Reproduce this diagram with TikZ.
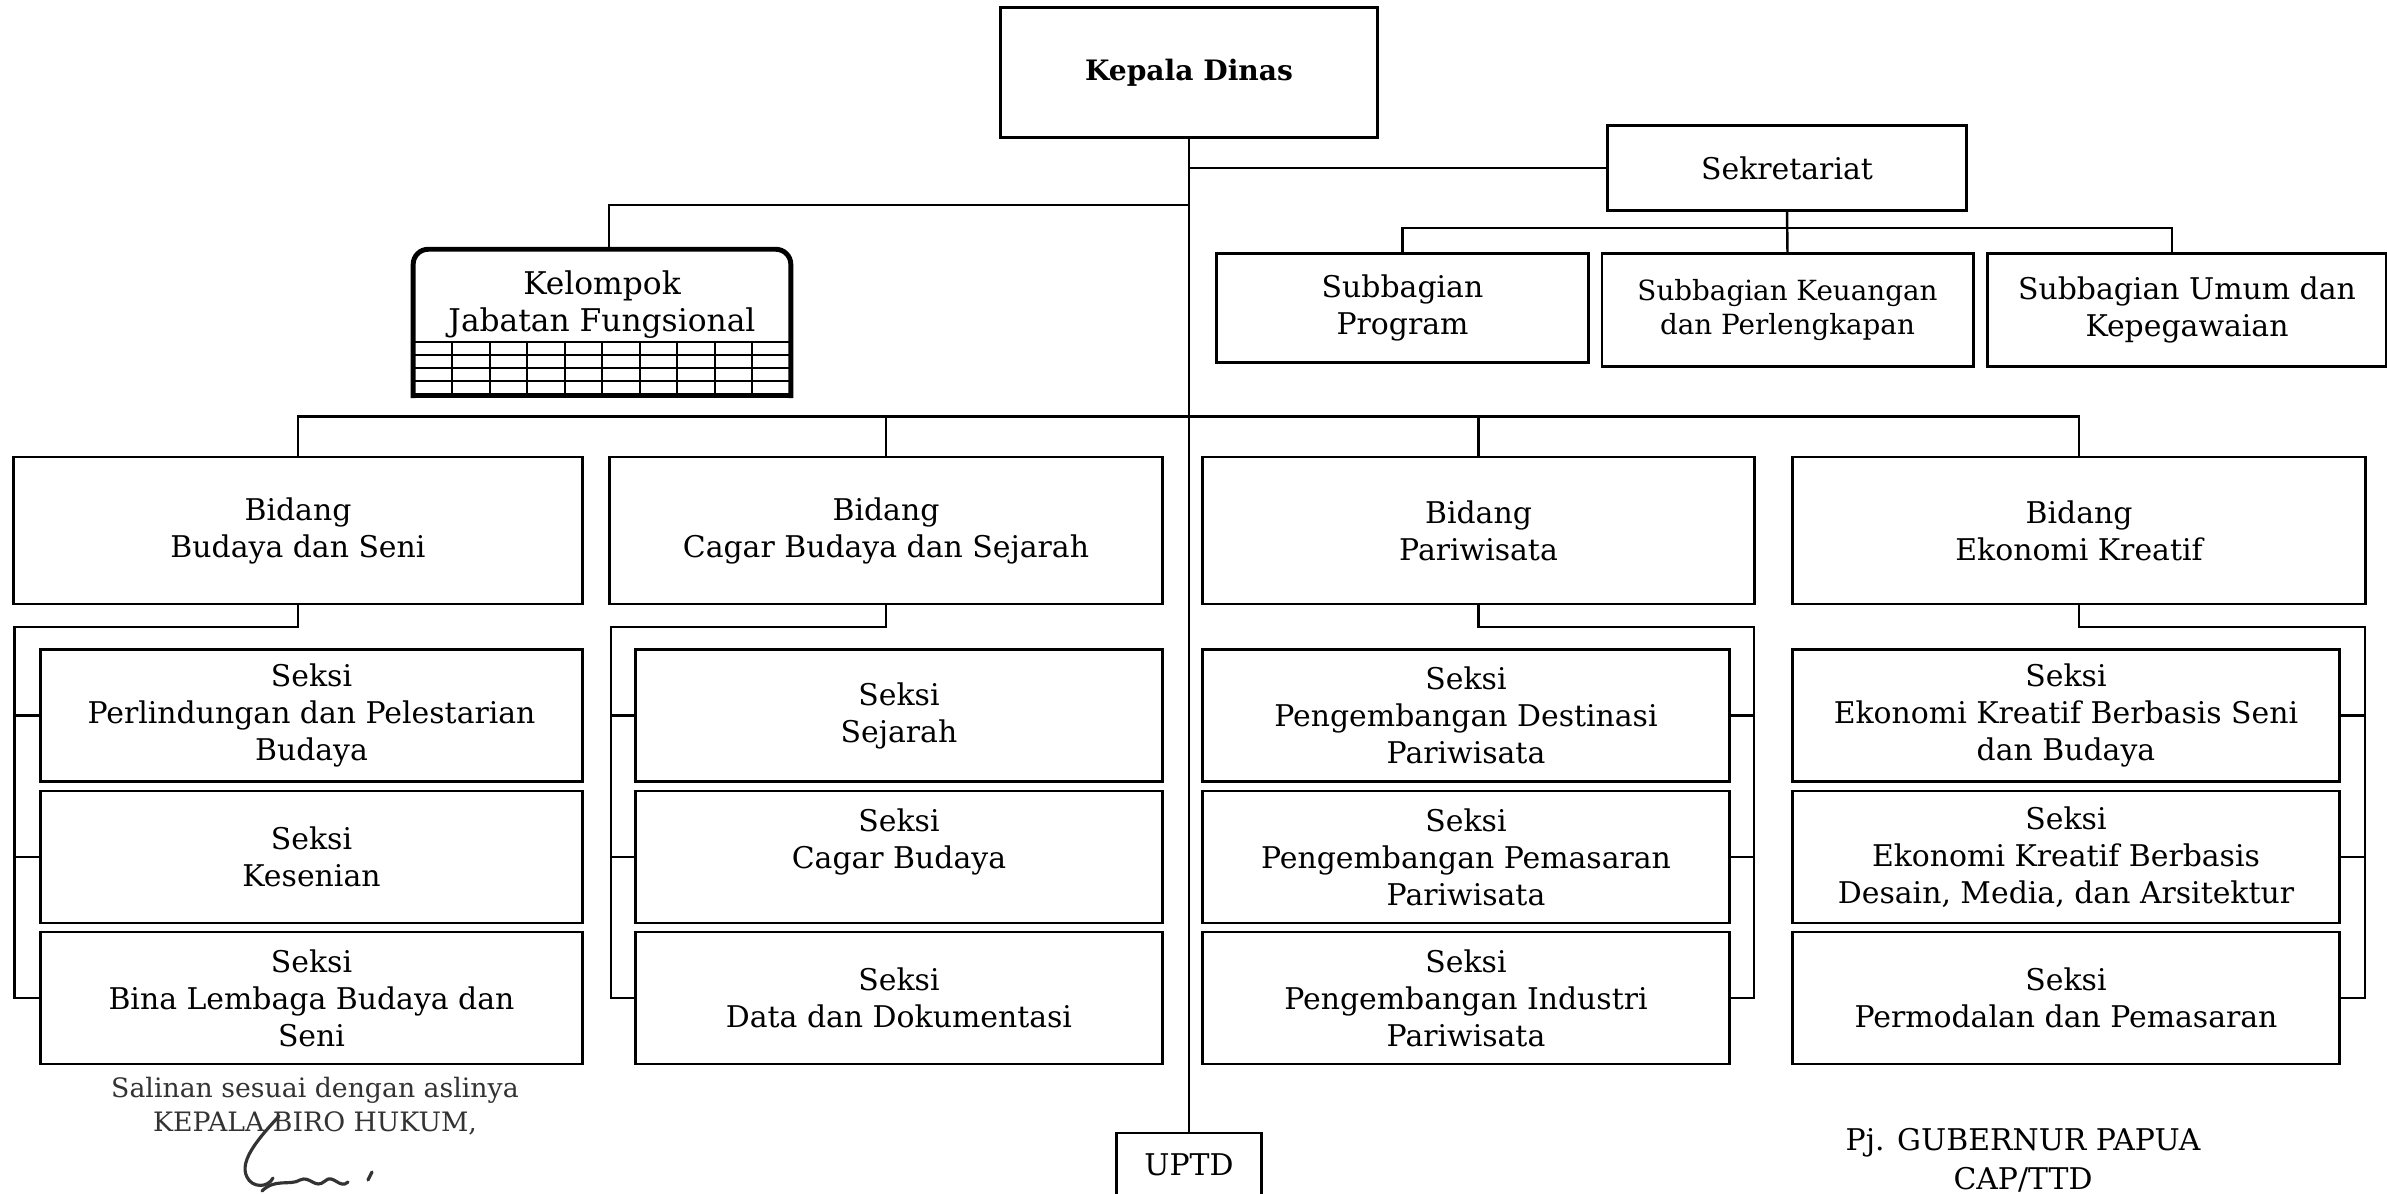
\documentclass[tikz,border=0pt]{standalone}
\usepackage{fontspec}
\setmainfont{DejaVu Serif}
\begin{document}
\begin{tikzpicture}[x=0.01cm, y=-0.01cm,
    box/.style={draw, line width=0.8pt, align=center, inner sep=0pt,
      font=\fontsize{8.5}{10.5}\selectfont},
    bidang/.style={box, minimum height=1.47cm},
    seksi/.style={box, minimum height=1.32cm},
    plain/.style={align=center, inner sep=0pt,
      font=\fontsize{8.5}{10.5}\selectfont},
    kjfline/.style={line width=1.4pt, line cap=rect},
    kjfgrid/.style={line width=0.5pt},
    conn/.style={line width=0.7pt},
    sig/.style={line width=0.9pt, black!80, line cap=round, line join=round}]
  \useasboundingbox (0,0) rectangle (2387,1193);
  \fill[white] (0,0) rectangle (2387,1193);
  \clip (0,0) rectangle (2387,1193);
  \draw
    (1189,72.3) node[box, minimum width=3.76cm, minimum height=1.30cm,
      font=\fontsize{8}{10}\selectfont\bfseries] (kd) {Kepala Dinas}
    (1787,168.2) node[box, minimum width=3.59cm, minimum height=0.85cm] (sek) {Sekretariat}
    (1402.5,307.7) node[box, minimum width=3.71cm, minimum height=1.09cm] (sp) {Subbagian\\Program}
    (1787.5,310) node[box, minimum width=3.71cm, minimum height=1.13cm,
      font=\fontsize{7.9}{9.8}\selectfont] (sk) {Subbagian Keuangan\\dan Perlengkapan}
    (2187,310) node[box, minimum width=3.98cm, minimum height=1.13cm] (su) {Subbagian Umum dan\\Kepegawaian}
    (602,322.5) node[minimum width=3.76cm, minimum height=1.45cm, inner sep=0pt] (kjf) {}
    (602,305) node[plain, font=\fontsize{8.9}{10.5}\selectfont] (kjft) {Kelompok\\Jabatan Fungsional}
    (298,530.5) node[bidang, minimum width=5.68cm] (b1) {Bidang\\Budaya dan Seni}
    (886,530.5) node[bidang, minimum width=5.52cm] (b2) {Bidang\\Cagar Budaya dan Sejarah}
    (1478.5,530.5) node[bidang, minimum width=5.51cm] (b3) {Bidang\\Pariwisata}
    (2079,530.5) node[bidang, minimum width=5.72cm] (b4) {Bidang\\Ekonomi Kreatif}
    (311.5,715.5) node[seksi, minimum width=5.41cm] (s11) {Seksi\\Perlindungan dan Pelestarian\\Budaya}
    (311.5,857) node[seksi, minimum width=5.41cm] (s12) {Seksi\\Kesenian}
    (311.5,998) node[seksi, minimum width=5.41cm] (s13) {Seksi\\Bina Lembaga Budaya dan\\Seni}
    (899,715.5) node[seksi, minimum width=5.26cm] (s21) {Seksi\\Sejarah}
    (899,857) node[seksi, minimum width=5.26cm] (s22) {Seksi\\Cagar Budaya\\\mbox{}}
    (899,998) node[seksi, minimum width=5.26cm] (s23) {Seksi\\Data dan Dokumentasi}
    (1466,715.5) node[seksi, minimum width=5.26cm] (s31) {Seksi\\Pengembangan Destinasi\\Pariwisata}
    (1466,857) node[seksi, minimum width=5.26cm] (s32) {Seksi\\Pengembangan Pemasaran\\Pariwisata}
    (1466,998) node[seksi, minimum width=5.26cm] (s33) {Seksi\\Pengembangan Industri\\Pariwisata}
    (2066,715.5) node[seksi, minimum width=5.46cm] (s41) {Seksi\\Ekonomi Kreatif Berbasis Seni\\dan Budaya}
    (2066,857) node[seksi, minimum width=5.46cm] (s42) {Seksi\\Ekonomi Kreatif Berbasis\\Desain, Media, dan Arsitektur}
    (2066,998) node[seksi, minimum width=5.46cm] (s43) {Seksi\\Permodalan dan Pemasaran}
    (1189,1165) node[box, minimum width=1.45cm, minimum height=0.64cm] (uptd) {UPTD}
    (315,1106) node[plain, text=black!80, font=\fontsize{7.6}{9.7}\selectfont] (sal) {Salinan sesuai dengan aslinya\\KEPALA BIRO HUKUM,}
    (2023,1160) node[plain, font=\fontsize{8.5}{11}\selectfont] (pj) {Pj. GUBERNUR PAPUA\\CAP/TTD}
    (1189,205) coordinate (kjfj)
    (1189,416.7) coordinate (bb)
    (2172,228) coordinate (sbr)
    (14.6,627) coordinate (j1)
    (611,627) coordinate (j2)
    (1754,627) coordinate (j3)
    (2365,627) coordinate (j4);
  % kelompok jabatan fungsional box
  \draw[kjfline, rounded corners=0.15cm] (kjf.south west) -- (kjf.north west) -- (kjf.north east) -- (kjf.south east);
  \draw[kjfline] (kjf.south west) -- (kjf.south east);
  \begin{scope}[kjfgrid]
    \draw (414,342) -- (790,342);
    \draw (414,355) -- (790,355);
    \draw (414,368) -- (790,368);
    \draw (414,381) -- (790,381);
    \draw (452,342) -- (452,395);
    \draw (490,342) -- (490,395);
    \draw (527,342) -- (527,395);
    \draw (565,342) -- (565,395);
    \draw (602,342) -- (602,395);
    \draw (640,342) -- (640,395);
    \draw (677,342) -- (677,395);
    \draw (715,342) -- (715,395);
    \draw (752,342) -- (752,395);
  \end{scope}
  \begin{scope}[conn]
    \draw (kd.south) -- (uptd.north);
    \draw (sek.west) -- (sek.west -| kd.south);
    \draw ([xshift=0.07cm]kjf.north) |- (kjfj);
    \draw (sek.south) -- (sk.north);
    \draw (sp.north) |- (sbr) -- (sbr |- su.north);
    \draw (b1.north) |- (bb) -| (b4.north);
    \draw (b2.north) -- (b2.north |- bb);
    \draw (b3.north) -- (b3.north |- bb);
    \draw (b1.south) |- (j1) |- (s13.west);
    \draw (j1 |- s11.west) -- (s11.west);
    \draw (j1 |- s12.west) -- (s12.west);
    \draw (b2.south) |- (j2) |- (s23.west);
    \draw (j2 |- s21.west) -- (s21.west);
    \draw (j2 |- s22.west) -- (s22.west);
    \draw (b3.south) |- (j3) |- (s33.east);
    \draw (j3 |- s31.east) -- (s31.east);
    \draw (j3 |- s32.east) -- (s32.east);
    \draw (b4.south) |- (j4) |- (s43.east);
    \draw (j4 |- s41.east) -- (s41.east);
    \draw (j4 |- s42.east) -- (s42.east);
  \end{scope}
  % signature
  \draw[sig] (279,1116) .. controls (262,1135) and (238,1160) .. (247,1177) .. controls (252,1188) and (268,1188) .. (273,1178);
  \draw[sig] (262,1191) .. controls (275,1178) and (290,1186) .. (300,1180) .. controls (310,1175) and (315,1190) .. (325,1181) .. controls (333,1173) and (340,1190) .. (348,1182);
  \draw[sig] (372,1172) -- (368,1180);
\end{tikzpicture}
\end{document}
